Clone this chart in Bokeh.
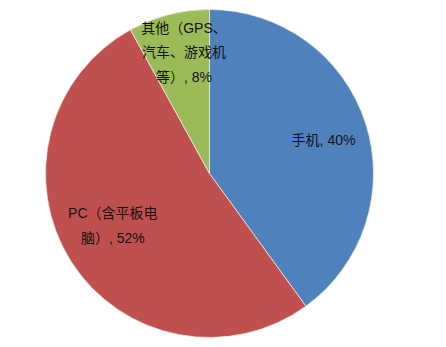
from math import pi, cos, sin, radians
from bokeh.plotting import figure
from bokeh.models import ColumnDataSource, Range1d
from bokeh.core.properties import value
from bokeh.embed import file_html
from bokeh.resources import INLINE

# Market share by device type
categories = ["手机", "PC（含平板电脑）", "其他（GPS、汽车、游戏机等）"]
shares = [40, 52, 8]
label_texts = ["手机, 40%", "PC（含平板电\n脑）, 52%", "其他（GPS、\n汽车、游戏机\n等）, 8%"]
colors = ["#4F81BD", "#C0504D", "#9BBB59"]

W, H = 446, 347
cx, cy, R = 209, H - 173, 164
# label placement: fraction of radius and a small angular nudge (degrees)
label_frac = [0.725, 0.67, 0.755]
label_nudge = [-1.5, -4.0, -2.5]

total = sum(shares)
starts, ends, lx, ly = [], [], [], []
a = pi / 2
for s, f, n in zip(shares, label_frac, label_nudge):
    sweep = 2 * pi * s / total
    starts.append(a)
    ends.append(a - sweep)
    mid = a - sweep / 2 + radians(n)
    lx.append(cx + f * R * cos(mid))
    ly.append(cy + f * R * sin(mid))
    a -= sweep

src = ColumnDataSource(dict(cat=categories, share=shares, start=starts, end=ends,
                            color=colors, lx=lx, ly=ly, label=label_texts))

p = figure(width=W, height=H, output_backend="svg", toolbar_location=None,
           x_range=Range1d(0, W), y_range=Range1d(0, H), min_border=0)
p.axis.visible = False
p.grid.visible = False
p.outline_line_color = None
p.background_fill_color = "white"

p.wedge(x=cx, y=cy, radius=R, start_angle="start", end_angle="end", direction="clock",
        fill_color="color", line_color="#e8e8e8", line_width=0.8, source=src)

p.text(x="lx", y="ly", text="label", source=src, text_align="center",
       text_baseline="middle", text_font=value("Liberation Sans, Noto Sans CJK SC"),
       text_font_size="14px", text_color="#111111", text_line_height=1.55)

open("out.html", "w").write(file_html(p, INLINE))
